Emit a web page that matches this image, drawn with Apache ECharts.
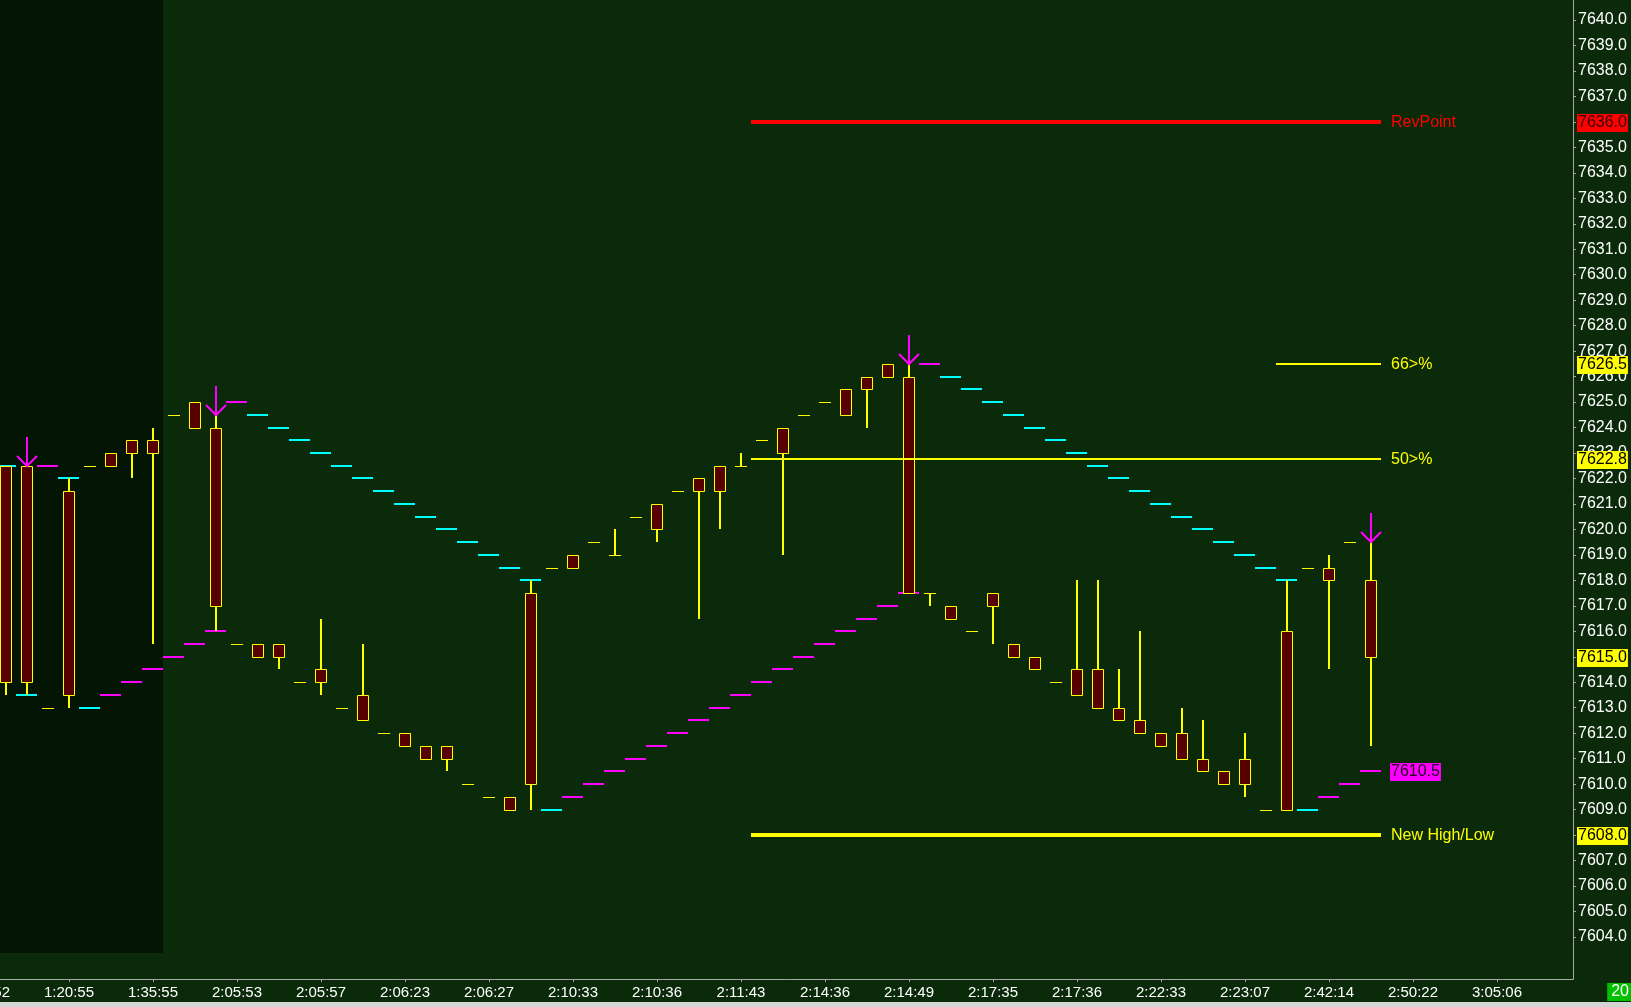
<!DOCTYPE html>
<html>
<head>
<meta charset="utf-8">
<script src="https://cdn.jsdelivr.net/npm/echarts@6/dist/echarts.min.js"></script>
<style>
html,body{margin:0;padding:0;background:#0a2a0a;}
#main{width:1631px;height:1007px;}
</style>
</head>
<body>
<div id="main"></div>
<script>
// ---------- DATA ----------
const xLabels = ['1:20:55','1:35:55','2:05:53','2:05:57','2:06:23','2:06:27','2:10:33','2:10:36','2:11:43','2:14:36','2:14:49','2:17:35','2:17:36','2:22:33','2:23:07','2:42:14','2:50:22','3:05:06'];
const xLabelBars = [3,7,11,15,19,23,27,31,35,39,43,47,51,55,59,63,67,71];
const cutLabel = '1:05:52';
const cutLabelBar = -1;

const opens  = [7622.5,7622.5,7613.0,7621.5,7622.5,7623.0,7623.5,7623.5,7624.5,7625.0,7624.0,7615.5,7615.5,7615.5,7614.0,7614.5,7613.0,7613.5,7612.0,7612.0,7611.5,7611.5,7610.0,7609.5,7609.5,7617.5,7618.5,7619.0,7619.5,7619.0,7620.5,7621.0,7621.5,7622.0,7622.5,7622.5,7623.5,7624.0,7624.5,7625.0,7625.5,7626.0,7626.5,7626.0,7617.5,7617.0,7616.0,7617.5,7615.5,7615.0,7614.0,7614.5,7614.5,7613.0,7612.5,7612.0,7612.0,7611.0,7610.5,7611.0,7609.0,7616.0,7618.5,7618.5,7619.5,7618.0];
const closes = [7614.0,7614.0,7613.0,7613.5,7622.5,7622.5,7623.0,7623.0,7624.5,7624.0,7617.0,7615.5,7615.0,7615.0,7614.0,7614.0,7613.0,7612.5,7612.0,7611.5,7611.0,7611.0,7610.0,7609.5,7609.0,7610.0,7618.5,7618.5,7619.5,7619.0,7620.5,7620.0,7621.5,7621.5,7621.5,7622.5,7623.5,7623.0,7624.5,7625.0,7624.5,7625.5,7626.0,7617.5,7617.5,7616.5,7616.0,7617.0,7615.0,7614.5,7614.0,7613.5,7613.0,7612.5,7612.0,7611.5,7611.0,7610.5,7610.0,7610.0,7609.0,7609.0,7618.5,7618.0,7619.5,7615.0];
const lows   = [7613.5,7613.5,7613.0,7613.0,7622.5,7622.5,7622.0,7615.5,7624.5,7624.0,7616.0,7615.5,7615.0,7614.5,7614.0,7613.5,7613.0,7612.5,7612.0,7611.5,7611.0,7610.5,7610.0,7609.5,7609.0,7609.0,7618.5,7618.5,7619.5,7619.0,7620.5,7619.5,7621.5,7616.5,7620.0,7622.5,7623.5,7619.0,7624.5,7625.0,7624.5,7624.0,7626.0,7617.5,7617.0,7616.5,7616.0,7615.5,7615.0,7614.5,7614.0,7613.5,7613.0,7612.5,7612.0,7611.5,7611.0,7610.5,7610.0,7609.5,7609.0,7609.0,7618.5,7614.5,7619.5,7611.5];
const highs  = [7622.5,7622.5,7613.0,7622.0,7622.5,7623.0,7623.5,7624.0,7624.5,7625.0,7624.5,7615.5,7615.5,7615.5,7614.0,7616.5,7613.0,7615.5,7612.0,7612.0,7611.5,7611.5,7610.0,7609.5,7609.5,7618.0,7618.5,7619.0,7619.5,7620.0,7620.5,7621.0,7621.5,7622.0,7622.5,7623.0,7623.5,7624.0,7624.5,7625.0,7625.5,7626.0,7626.5,7626.5,7617.5,7617.0,7616.0,7617.5,7615.5,7615.0,7614.0,7618.0,7618.0,7614.5,7616.0,7612.0,7613.0,7612.5,7610.5,7612.0,7609.0,7618.0,7618.5,7619.0,7619.5,7619.5];

const trailValues = [7622.5,7613.5,7622.5,7622.0,7613.0,7613.5,7614.0,7614.5,7615.0,7615.5,7616.0,7625.0,7624.5,7624.0,7623.5,7623.0,7622.5,7622.0,7621.5,7621.0,7620.5,7620.0,7619.5,7619.0,7618.5,7618.0,7609.0,7609.5,7610.0,7610.5,7611.0,7611.5,7612.0,7612.5,7613.0,7613.5,7614.0,7614.5,7615.0,7615.5,7616.0,7616.5,7617.0,7617.5,7626.5,7626.0,7625.5,7625.0,7624.5,7624.0,7623.5,7623.0,7622.5,7622.0,7621.5,7621.0,7620.5,7620.0,7619.5,7619.0,7618.5,7618.0,7609.0,7609.5,7610.0,7610.5];
const trailKind   = ['c','c','m','c','c','m','m','m','m','m','m','m','c','c','c','c','c','c','c','c','c','c','c','c','c','c','c','m','m','m','m','m','m','m','m','m','m','m','m','m','m','m','m','m','m','c','c','c','c','c','c','c','c','c','c','c','c','c','c','c','c','c','c','m','m','m'];

const arrowBars = [1, 10, 43, 65];

const sessionEnd = 7.5;
const sessionFloor = 7603.37;

const levelNames  = ['RevPoint','66>%','50>%','New High/Low'];
const levelValues = [7636.0, 7626.5, 7622.75, 7608.0];
const levelStarts = [35.5, 60.5, 35.5, 35.5];
const levelEnds   = [65.5, 65.5, 65.5, 65.5];

const yTicks = [7604,7605,7606,7607,7608,7609,7610,7611,7612,7613,7614,7615,7616,7617,7618,7619,7620,7621,7622,7623,7624,7625,7626,7627,7628,7629,7630,7631,7632,7633,7634,7635,7636,7637,7638,7639,7640];
const tagValues = [7636.0, 7626.5, 7622.75, 7615.0, 7608.0];
const tagTexts  = ['7636.0','7626.5','7622.8','7615.0','7608.0'];
const lastTrailText = '7610.5';
const barCountText = '20';

// ---------- STYLES ----------
const FONT = '"Liberation Sans", Arial, sans-serif';
const trailColors = { c: '#00ffff', m: '#ff00ff' };
const levelStyle = {
  'RevPoint':     { color: '#ff0000', width: 4 },
  '66>%':         { color: '#ffff00', width: 2 },
  '50>%':         { color: '#ffff00', width: 2 },
  'New High/Low': { color: '#ffff00', width: 4 }
};
const tagStyle = [
  { bg: '#ff0000', fg: '#3a0000' },
  { bg: '#ffff00', fg: '#000000' },
  { bg: '#ffff00', fg: '#000000' },
  { bg: '#ffff00', fg: '#000000' },
  { bg: '#ffff00', fg: '#000000' }
];

// ---------- BUILD ----------
const candleData = opens.map((o, i) => [i, o, closes[i], lows[i], highs[i]]);
const trailData = trailValues.map((v, i) => [i, v, trailKind[i]]);
const arrowData = arrowBars.map(i => [i, highs[i]]);
const levelData = levelNames.map((n, k) => [levelStarts[k], levelEnds[k], levelValues[k], n]);

const XMIN = -6 / 21, XMAX = (1573 - 6) / 21;
const YMIN = 7602.348, YMAX = 7640.785;

const chart = echarts.init(document.getElementById('main'), null, { renderer: 'canvas' });

function renderCandle(params, api) {
  const i = api.value(0), o = api.value(1), c = api.value(2), l = api.value(3), h = api.value(4);
  const pO = api.coord([i, o]), pC = api.coord([i, c]), pL = api.coord([i, l]), pH = api.coord([i, h]);
  const cx = Math.round(pO[0]);
  const half = Math.round(api.size([1, 0])[0] * 6 / 21);
  const top = Math.round(Math.min(pO[1], pC[1])), bot = Math.round(Math.max(pO[1], pC[1]));
  const hy = Math.round(pH[1]), ly = Math.round(pL[1]);
  const ch = [];
  if (hy < top) ch.push({ type: 'line', shape: { x1: cx, y1: hy, x2: cx, y2: top }, style: { stroke: '#ffff00', lineWidth: 2 } });
  if (ly > bot) ch.push({ type: 'line', shape: { x1: cx, y1: bot, x2: cx, y2: ly }, style: { stroke: '#ffff00', lineWidth: 2 } });
  if (bot - top < 1) {
    ch.push({ type: 'line', shape: { x1: cx - half, y1: top + 0.5, x2: cx + half, y2: top + 0.5 }, style: { stroke: '#ffff00', lineWidth: 1 } });
  } else {
    ch.push({ type: 'rect', shape: { x: cx - half + 0.5, y: top + 0.5, width: 2 * half - 1, height: bot - top }, style: { fill: '#560000', stroke: '#ffff00', lineWidth: 1 } });
  }
  return { type: 'group', children: ch };
}

function renderTrail(params, api) {
  const i = api.value(0), v = api.value(1);
  const kind = trailData[params.dataIndex][2];
  const a = api.coord([i - 0.5, v]), b = api.coord([i + 0.5, v]);
  const y = Math.round(a[1]);
  return { type: 'line', shape: { x1: Math.round(a[0]), y1: y, x2: Math.round(b[0]), y2: y }, style: { stroke: trailColors[kind], lineWidth: 2 } };
}

function renderArrow(params, api) {
  const p = api.coord([api.value(0), api.value(1)]);
  const x = Math.round(p[0]), y = Math.round(p[1]);
  return { type: 'group', children: [
    { type: 'line', shape: { x1: x, y1: y - 29, x2: x, y2: y }, style: { stroke: '#ff00ff', lineWidth: 2 } },
    { type: 'polyline', shape: { points: [[x - 10, y - 10], [x, y], [x + 10, y - 10]] }, style: { stroke: '#ff00ff', lineWidth: 2, fill: null } }
  ] };
}

function renderLevel(params, api) {
  const d = levelData[params.dataIndex];
  const st = levelStyle[d[3]];
  const a = api.coord([d[0], d[2]]), b = api.coord([d[1], d[2]]);
  const y = Math.round(a[1]);
  return { type: 'group', children: [
    { type: 'line', shape: { x1: Math.round(a[0]), y1: y, x2: Math.round(b[0]), y2: y }, style: { stroke: st.color, lineWidth: st.width } },
    { type: 'text', style: { text: d[3], x: Math.round(b[0]) + 10, y: y + 1, fill: st.color, font: '16px ' + FONT, verticalAlign: 'middle', align: 'left' } }
  ] };
}

function renderSession(params, api) {
  const a = api.coord([XMIN, YMAX]);
  const b = api.coord([api.value(0), api.value(1)]);
  return { type: 'rect', shape: { x: a[0], y: a[1], width: Math.round(b[0]) - a[0], height: Math.round(b[1]) - a[1] }, style: { fill: '#041504' } };
}

const option = {
  animation: false,
  backgroundColor: '#0a2a0a',
  grid: { left: 0, right: 58, top: 0, bottom: 28, containLabel: false },
  xAxis: {
    type: 'value', min: XMIN, max: XMAX,
    splitLine: { show: false },
    axisLine: { show: true, onZero: false, lineStyle: { color: '#a8a8a8', width: 1 } },
    axisTick: { show: true, length: 3, customValues: xLabelBars, lineStyle: { color: '#a8a8a8' } },
    axisLabel: {
      customValues: xLabelBars, margin: 6, color: '#ffffff', fontSize: 15, fontFamily: FONT,
      formatter: v => xLabels[xLabelBars.indexOf(Math.round(v))] || ''
    }
  },
  yAxis: {
    type: 'value', position: 'right', min: YMIN, max: YMAX, scale: true,
    splitLine: { show: false },
    axisLine: { show: true, onZero: false, lineStyle: { color: '#a8a8a8', width: 1 } },
    axisTick: { show: true, length: 3, customValues: yTicks, lineStyle: { color: '#a8a8a8' } },
    axisLabel: { customValues: yTicks, margin: 5, color: '#ffffff', fontSize: 16, fontFamily: FONT, padding: [4, 0, 0, 0], formatter: v => v.toFixed(1) }
  },
  series: [
    { type: 'custom', z: 1, clip: true, renderItem: renderSession, data: [[sessionEnd, sessionFloor]], silent: true },
    { type: 'custom', z: 2, clip: true, renderItem: renderTrail, data: trailData.map(d => [d[0], d[1]]), silent: true },
    { type: 'custom', z: 3, clip: true, renderItem: renderCandle, data: candleData, silent: true },
    { type: 'custom', z: 4, clip: false, renderItem: renderLevel, data: levelData.map(d => [d[0], d[2]]), silent: true },
    { type: 'custom', z: 5, clip: true, renderItem: renderArrow, data: arrowData, silent: true }
  ]
};
chart.setOption(option);

// Price tags on the axis, placed through the chart's own scales
const px = (x, y) => chart.convertToPixel({ gridIndex: 0 }, [x, y]);
const axisX = Math.round(px(XMAX, YMAX)[0]);
const graphics = tagValues.map((v, k) => ({
  type: 'text', z: 100,
  style: {
    text: tagTexts[k], x: axisX + 4, y: Math.round(px(XMAX, v)[1]) + 1,
    fill: tagStyle[k].fg, backgroundColor: tagStyle[k].bg, padding: [2, 1, 0, 1],
    font: '16px ' + FONT, verticalAlign: 'middle', align: 'left'
  }
}));
const lt = px(65.5, trailValues[trailValues.length - 1]);
graphics.push({
  type: 'text', z: 100,
  style: { text: lastTrailText, x: Math.round(lt[0]) + 9, y: Math.round(lt[1]) + 1, fill: '#200020', backgroundColor: '#ff00ff', padding: [2, 1, 0, 1], font: '16px ' + FONT, verticalAlign: 'middle', align: 'left' }
});
const cl = px(cutLabelBar, YMIN);
graphics.push({
  type: 'text', z: 100,
  style: { text: cutLabel, x: Math.round(cl[0]), y: Math.round(cl[1]) + 6, fill: '#ffffff', font: '15px ' + FONT, verticalAlign: 'top', align: 'center' }
});
graphics.push({ type: 'rect', z: 90, shape: { x: 0, y: 1002, width: 1631, height: 5 }, style: { fill: '#d4d4d4' } });
graphics.push({
  type: 'text', z: 100,
  style: { text: barCountText, x: 1631, y: 983, fill: '#ffffff', backgroundColor: '#00c000', padding: [1, 2, 1, 4], font: '16px ' + FONT, verticalAlign: 'top', align: 'right' }
});
chart.setOption({ graphic: graphics });
</script>
</body>
</html>
